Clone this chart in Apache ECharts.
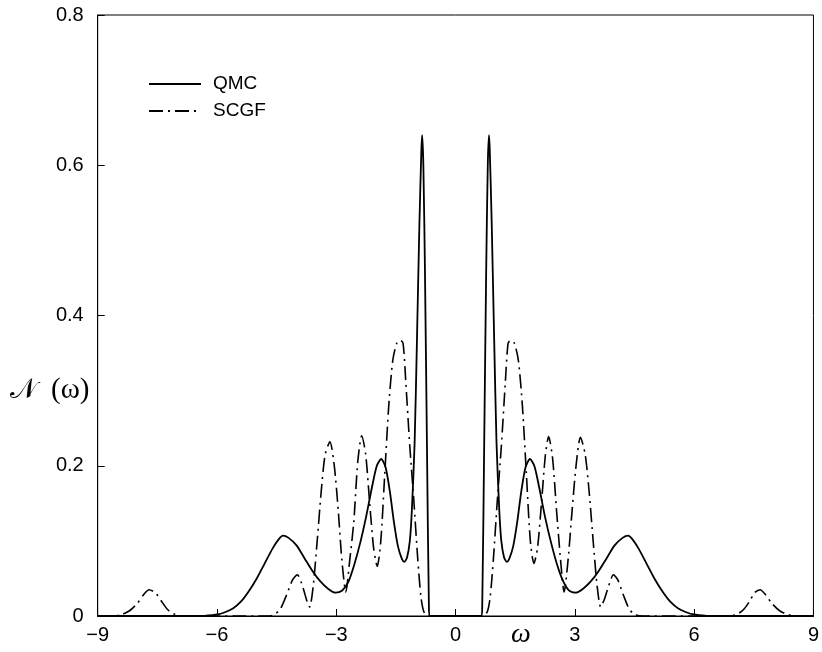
<!DOCTYPE html>
<html>
<head>
<meta charset="utf-8">
<script src="https://cdn.jsdelivr.net/npm/echarts@6/dist/echarts.min.js"></script>
<style>html,body{margin:0;padding:0;background:#fff;}#c{width:822px;height:652px;}</style>
</head>
<body>
<div id="c"></div>
<script>
const xTicks = [-9, -6, -3, 0, 3, 6, 9];
const yTicks = [0, 0.2, 0.4, 0.6, 0.8];

const qmcOmega = [-9.0, -6.4, -6.0, -5.8, -5.6, -5.4, -5.2, -5.0, -4.8, -4.6, -4.45, -4.34, -4.2, -4.0, -3.8, -3.6, -3.4, -3.2, -3.02, -2.85, -2.7, -2.55, -2.4, -2.25, -2.1, -1.98, -1.87, -1.76, -1.65, -1.55, -1.45, -1.35, -1.29, -1.22, -1.15, -1.10, -1.03, -0.97, -0.91, -0.86, -0.84, -0.81, -0.77, -0.72, -0.67, -0.64,
  0.64, 0.67, 0.72, 0.77, 0.81, 0.84, 0.86, 0.91, 0.97, 1.03, 1.10, 1.15, 1.22, 1.29, 1.35, 1.45, 1.55, 1.65, 1.76, 1.87, 1.98, 2.1, 2.25, 2.4, 2.55, 2.7, 2.85, 3.02, 3.2, 3.4, 3.6, 3.8, 4.0, 4.2, 4.34, 4.45, 4.6, 4.8, 5.0, 5.2, 5.4, 5.6, 5.8, 6.0, 6.4, 9.0];
const qmcN = [0, 0, 0.002, 0.005, 0.010, 0.019, 0.033, 0.050, 0.070, 0.090, 0.102, 0.107, 0.104, 0.094, 0.077, 0.060, 0.046, 0.036, 0.031, 0.034, 0.045, 0.068, 0.097, 0.132, 0.172, 0.200, 0.209, 0.198, 0.165, 0.125, 0.093, 0.076, 0.072, 0.078, 0.100, 0.140, 0.230, 0.370, 0.520, 0.620, 0.640, 0.600, 0.460, 0.230, 0.010, 0,
  0, 0.010, 0.230, 0.460, 0.600, 0.640, 0.620, 0.520, 0.370, 0.230, 0.140, 0.100, 0.078, 0.072, 0.076, 0.093, 0.125, 0.165, 0.198, 0.209, 0.200, 0.172, 0.132, 0.098, 0.069, 0.047, 0.034, 0.031, 0.036, 0.046, 0.060, 0.077, 0.094, 0.104, 0.107, 0.102, 0.090, 0.070, 0.050, 0.033, 0.019, 0.010, 0.005, 0.002, 0, 0];

const scgfOmega = [-9.0, -8.6, -8.4, -8.2, -8.0, -7.85, -7.71, -7.55, -7.4, -7.25, -7.1, -6.9, -4.7, -4.55, -4.4, -4.25, -4.1, -3.98, -3.85, -3.75, -3.67, -3.58, -3.48, -3.38, -3.28, -3.16, -3.05, -2.95, -2.86, -2.76, -2.66, -2.56, -2.46, -2.36, -2.26, -2.16, -2.06, -1.97, -1.88, -1.78, -1.68, -1.58, -1.48, -1.39, -1.32, -1.25, -1.15, -1.05, -0.95, -0.87, -0.80, -0.70,
  0.70, 0.80, 0.87, 0.95, 1.05, 1.15, 1.25, 1.32, 1.39, 1.48, 1.58, 1.68, 1.78, 1.88, 1.97, 2.06, 2.16, 2.26, 2.34, 2.44, 2.54, 2.64, 2.73, 2.83, 2.93, 3.03, 3.14, 3.26, 3.36, 3.46, 3.56, 3.65, 3.74, 3.85, 3.97, 4.08, 4.22, 4.36, 4.5, 4.7, 6.9, 7.1, 7.25, 7.4, 7.52, 7.66, 7.8, 7.95, 8.15, 8.35, 8.6, 9.0];
const scgfN = [0, 0, 0.002, 0.007, 0.017, 0.028, 0.035, 0.031, 0.020, 0.009, 0.003, 0, 0, 0.002, 0.010, 0.028, 0.048, 0.055, 0.040, 0.022, 0.012, 0.040, 0.100, 0.165, 0.215, 0.232, 0.200, 0.140, 0.075, 0.032, 0.075, 0.125, 0.205, 0.240, 0.215, 0.150, 0.090, 0.066, 0.100, 0.190, 0.280, 0.340, 0.363, 0.367, 0.363, 0.310, 0.225, 0.154, 0.075, 0.025, 0.006, 0,
  0, 0.006, 0.025, 0.075, 0.154, 0.225, 0.310, 0.363, 0.367, 0.363, 0.340, 0.280, 0.190, 0.100, 0.070, 0.090, 0.150, 0.215, 0.239, 0.210, 0.140, 0.075, 0.032, 0.075, 0.140, 0.200, 0.238, 0.215, 0.165, 0.100, 0.040, 0.012, 0.022, 0.040, 0.055, 0.048, 0.028, 0.010, 0.002, 0, 0, 0.003, 0.009, 0.020, 0.031, 0.035, 0.028, 0.017, 0.007, 0.002, 0, 0];

const zip = (xs, ys) => xs.map((x, i) => [x, ys[i]]);

const chart = echarts.init(document.getElementById('c'));
const labelFont = 'Liberation Sans, Arial, Helvetica, sans-serif';
chart.setOption({
  animation: false,
  backgroundColor: '#fff',
  grid: { left: 97.7, right: 2.5, top: 15, bottom: 36, show: true, borderColor: '#000', borderWidth: 1, backgroundColor: 'transparent' },
  xAxis: {
    type: 'value', min: xTicks[0], max: xTicks[xTicks.length - 1], interval: 3,
    axisLine: { onZero: false, lineStyle: { color: '#000', width: 1 } },
    axisTick: { inside: true, length: 7, lineStyle: { color: '#000' } },
    splitLine: { show: false },
    axisLabel: { color: '#000', fontSize: 20, fontFamily: labelFont, margin: 9,
      formatter: v => (v < 0 ? '\u2212' + Math.abs(v) : String(v)) }
  },
  yAxis: {
    type: 'value', min: yTicks[0], max: yTicks[yTicks.length - 1], interval: 0.2,
    axisLine: { show: true, onZero: false, lineStyle: { color: '#000', width: 1 } },
    axisTick: { show: true, inside: true, length: 7, lineStyle: { color: '#000' } },
    splitLine: { show: false },
    axisLabel: { color: '#000', fontSize: 20, fontFamily: labelFont, margin: 14,
      formatter: v => (v === 0 ? '0' : v.toFixed(1)) }
  },
  legend: {
    orient: 'vertical', left: 148, top: 74, padding: 0, itemWidth: 52, itemHeight: 14, itemGap: 7,
    itemStyle: { opacity: 0 },
    textStyle: { fontSize: 19, fontFamily: labelFont, color: '#000', lineHeight: 20, padding: [0, 0, 0, 7] },
    data: ['QMC', 'SCGF']
  },
  series: [
    { name: 'QMC', type: 'line', data: zip(qmcOmega, qmcN), symbol: 'none', smooth: 0.25,
      itemStyle: { color: '#000' },
      lineStyle: { color: '#000', width: 1.8, type: 'solid' } },
    { name: 'SCGF', type: 'line', data: zip(scgfOmega, scgfN), symbol: 'none', smooth: 0.25,
      itemStyle: { color: '#000' },
      lineStyle: { color: '#000', width: 1.6, type: [14, 5, 2, 5] } }
  ],
  graphic: [
    { type: 'text', left: 10, top: 376, style: { text: '{n|\uD835\uDCA9}{s| }{p|(\u03C9)}', rich: {
        n: { fontSize: 28, fontFamily: 'DejaVu Serif, serif', fill: '#000' },
        s: { fontSize: 28, width: 14 },
        p: { fontSize: 29, fontFamily: 'Liberation Serif, DejaVu Serif, serif', fill: '#000' } } } },
    { type: 'text', left: 511, top: 621, style: { text: '\u03C9', fontSize: 28, fontStyle: 'italic', fontFamily: 'Liberation Serif, DejaVu Serif, serif', fill: '#000' } }
  ]
});
</script>
</body>
</html>
